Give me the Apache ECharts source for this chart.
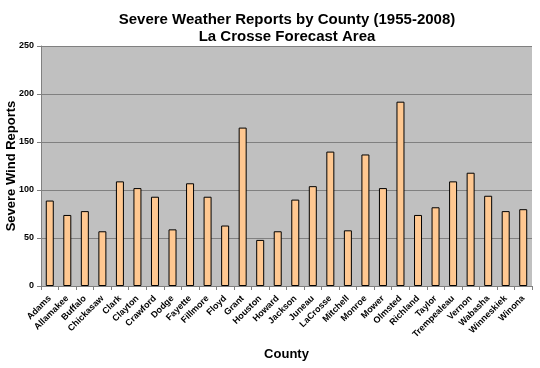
<!DOCTYPE html>
<html><head><meta charset="utf-8">
<script src="https://cdn.jsdelivr.net/npm/echarts@6/dist/echarts.min.js"></script>
<style>html,body{margin:0;padding:0;background:#fff}#c{width:540px;height:368px}</style>
</head><body><div id="c"></div>
<script>
var counties = ["Adams","Allamakee","Buffalo","Chickasaw","Clark","Clayton","Crawford","Dodge","Fayette","Fillmore","Floyd","Grant","Houston","Howard","Jackson","Juneau","LaCrosse","Mitchell","Monroe","Mower","Olmsted","Richland","Taylor","Trempealeau","Vernon","Wabasha","Winneskiek","Winona"];
var windReports = [89,74,78,57,109,102,93,59,107,93,63,165,48,57,90,104,140,58,137,102,192,74,82,109,118,94,78,80];
var yTicks = {min:0, max:250, interval:50};

var chart = echarts.init(document.getElementById('c'), null, {renderer:'canvas'});
chart.setOption({
  animation:false,
  backgroundColor:'#ffffff',
  title:{
    text:'Severe Weather Reports by County (1955-2008)\nLa Crosse Forecast Area',
    left:282, top:6, textAlign:'center',
    textStyle:{fontFamily:'Liberation Sans, Arial', fontSize:15, fontWeight:'bold', color:'#000', lineHeight:17, align:'center'}
  },
  grid:{left:41, right:8, top:46, height:240, backgroundColor:'#c0c0c0', show:true, borderWidth:0, containLabel:false, outerBoundsMode:'none'},
  xAxis:{
    type:'category', data:counties,
    name:'County', nameLocation:'middle', nameGap:62, nameMoveOverlap:false,
    nameTextStyle:{fontFamily:'Liberation Sans, Arial', fontSize:13, fontWeight:'bold', color:'#000'},
    axisLine:{lineStyle:{color:'#808080'}},
    axisTick:{show:true, alignWithLabel:false, length:4, lineStyle:{color:'#808080'}},
    axisLabel:{rotate:45, interval:0, fontFamily:'Liberation Sans, Arial', fontSize:9, fontWeight:'bold', color:'#000', margin:11}
  },
  yAxis:{
    type:'value', min:yTicks.min, max:yTicks.max, interval:yTicks.interval,
    name:'Severe Wind Reports', nameLocation:'middle', nameGap:23, nameMoveOverlap:false,
    nameTextStyle:{fontFamily:'Liberation Sans, Arial', fontSize:13, fontWeight:'bold', color:'#000'},
    axisLine:{show:true, lineStyle:{color:'#808080'}},
    axisTick:{show:true, length:4, lineStyle:{color:'#808080'}},
    splitLine:{lineStyle:{color:'#808080', width:1}},
    axisLabel:{fontFamily:'Liberation Sans, Arial', fontSize:9, fontWeight:'bold', color:'#000', margin:7}
  },
  series:[{
    type:'bar', data:windReports, barWidth:8,
    itemStyle:{color:'#ffc891', borderColor:'#000', borderWidth:1}
  }]
});
</script></body></html>
